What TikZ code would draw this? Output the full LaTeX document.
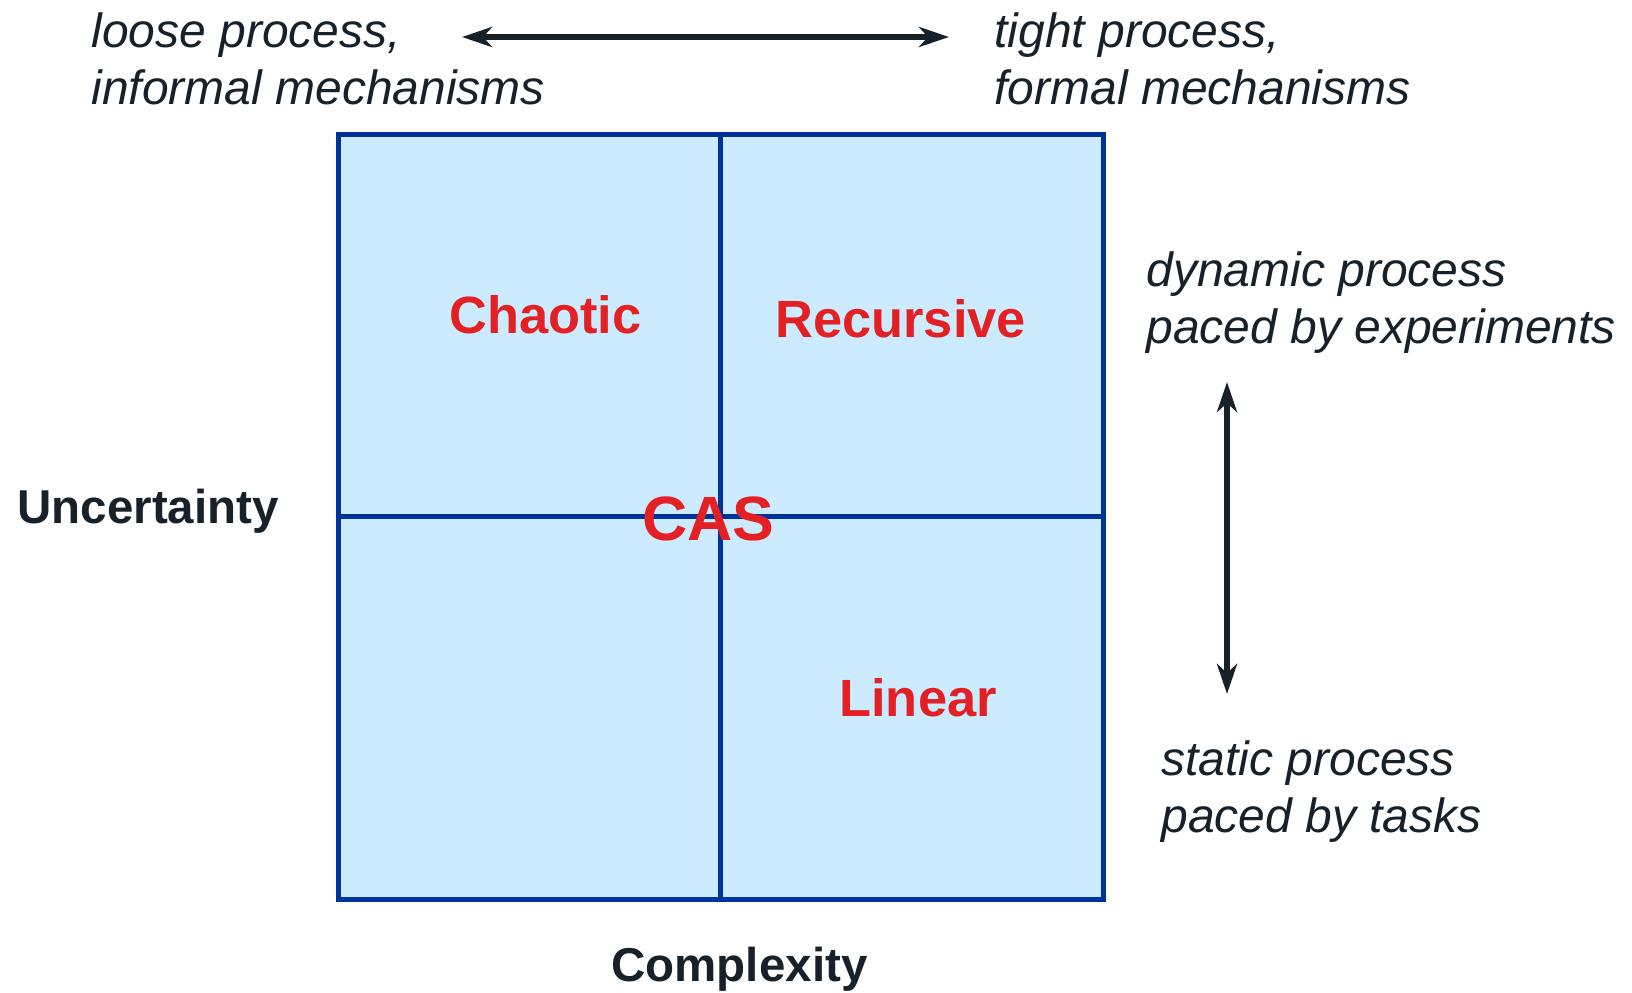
\documentclass[tikz,border=0pt]{standalone}
\usepackage{fontspec}
\setmainfont{Liberation Sans}
\usetikzlibrary{arrows.meta}
\definecolor{inkdark}{RGB}{23,33,42}
\definecolor{gridblue}{RGB}{0,51,153}
\definecolor{cellfill}{RGB}{204,235,255}
\definecolor{labelred}{RGB}{227,32,36}
\tikzset{
  note/.style={anchor=base west, inner sep=0pt, text=inkdark, align=left,
    font=\fontsize{24}{28.5}\selectfont\itshape},
  axislabel/.style={anchor=base west, inner sep=0pt, text=inkdark,
    font=\fontsize{23.75}{28}\selectfont\bfseries},
  regime/.style={anchor=base west, inner sep=0pt, text=labelred,
    font=\fontsize{26.2}{30}\selectfont\bfseries},
  grid line/.style={draw=gridblue, line width=2.5pt},
  twoway/.style={draw=inkdark, line width=2.8pt,
    {Stealth[length=15pt,width=10pt,inset=4.5pt]}-{Stealth[length=15pt,width=10pt,inset=4.5pt]}}
}
\begin{document}
\begin{tikzpicture}[x=0.5pt,y=-0.5pt]
  \useasboundingbox (0,0) rectangle (1632,992);

  % quadrant frame
  \coordinate (nw) at (338,134);
  \coordinate (se) at (1103,899);
  \coordinate (ntop) at (720.5,134);
  \coordinate (nbot) at (720.5,899);
  \coordinate (wmid) at (338,516.5);
  \coordinate (emid) at (1103,516.5);
  \fill[cellfill] (nw) rectangle (se);
  \draw[grid line] (ntop) -- (nbot);
  \draw[grid line] (wmid) -- (emid);
  \draw[grid line] (nw) rectangle (se);

  % quadrant labels
  \node[regime] (chaotic) at (449,333) {Chaotic};
  \node[regime] (recursive) at (775,337) {Recursive};
  \node[regime] (linear) at (839,716) {Linear};
  \node[regime, font=\fontsize{31.3}{36}\selectfont\bfseries] (cas) at (642,540) {CAS};

  % axis names
  \node[axislabel] (unc) at (17,523) {Uncertainty};
  \node[axislabel] (cpx) at (611,981) {Complexity};

  % process spectra (anchored on the baseline of the last line)
  \node[note] (loose) at (91,104) {loose process,\\informal mechanisms};
  \node[note] (tight) at (994,104) {tight process,\\formal mechanisms};
  \node[note] (dyn) at (1146,343) {dynamic process\\paced by experiments};
  \node[note] (stat) at (1161,832) {static process\\paced by tasks};

  \coordinate (hl) at (462,37);
  \coordinate (hr) at (949,37);
  \coordinate (vt) at (1227,382);
  \coordinate (vb) at (1227,694);
  \draw[twoway] (hl) -- (hr);
  \draw[twoway] (vt) -- (vb);
\end{tikzpicture}
\end{document}
